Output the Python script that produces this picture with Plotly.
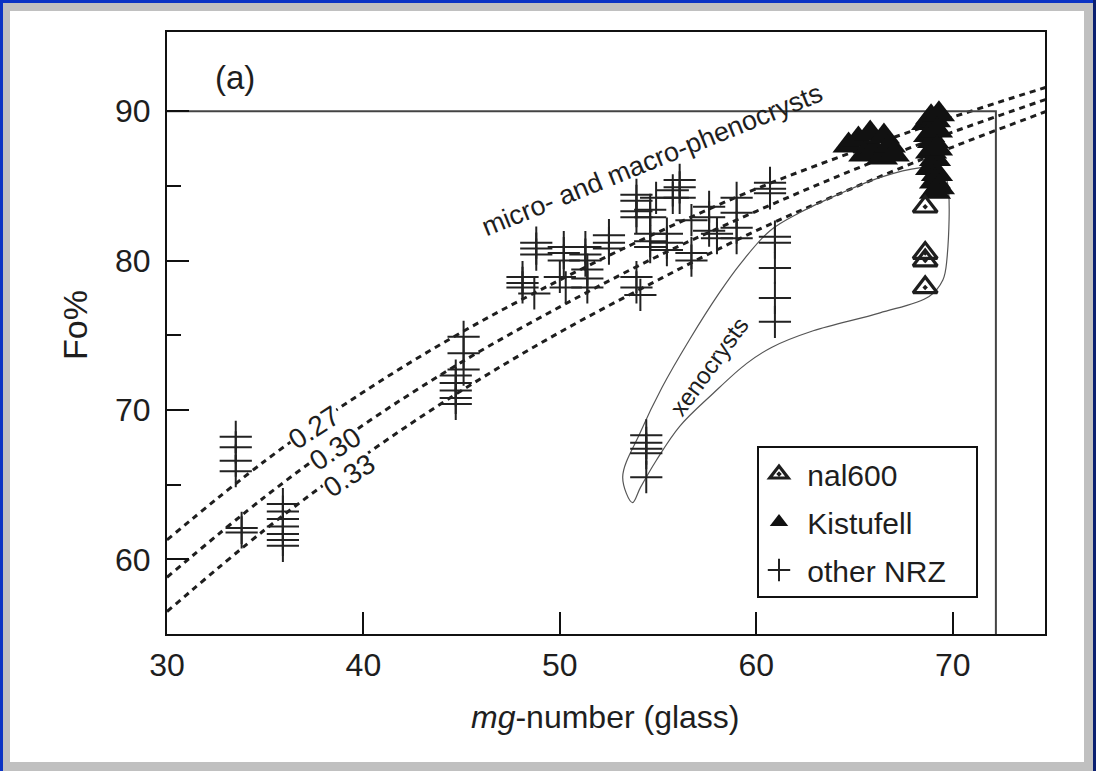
import plotly.graph_objects as go

# ---------------- data ----------------
curve_x = [30, 35, 40, 45, 50, 55, 60, 65, 70, 75]
curve_027 = [61.3, 66.6, 71.2, 75.2, 78.7, 81.9, 84.8, 87.3, 89.6, 91.7]
curve_030 = [58.8, 64.2, 69.0, 73.2, 76.9, 80.3, 83.3, 86.1, 88.6, 90.9]
curve_033 = [56.5, 62.0, 66.9, 71.3, 75.2, 78.7, 82.0, 84.9, 87.6, 90.1]
curve_labels = ["0.27", "0.30", "0.33"]
curve_label_x = [37.5, 38.6, 39.3]
curve_label_y = [68.8, 67.4, 65.6]

nrz_x = [33.5, 33.5, 33.5, 33.5, 33.8, 33.8,
         35.9, 35.9, 35.9, 35.9, 35.9, 35.9, 35.9,
         44.7, 44.7, 44.7, 44.7, 44.7, 45.1, 45.1, 45.1,
         48.1, 48.1, 48.1, 48.7,
         48.8, 48.8, 48.8,
         50.2, 50.2, 50.2, 50.0, 50.3,
         51.3, 51.3, 51.3, 51.4, 51.4, 51.4,
         52.5, 52.5, 52.5,
         53.9, 53.9, 53.9, 53.9, 53.9, 53.9, 54.1,
         54.6, 54.6, 54.6, 54.6, 54.6,
         54.9,
         55.45, 55.45, 55.45,
         55.75, 55.75,
         56.1, 56.1, 56.1,
         56.7, 56.7, 56.7,
         57.6, 57.6, 57.6,
         58.0, 58.0,
         59.0, 59.0, 59.0, 59.0,
         60.7, 60.7, 60.7,
         60.95, 60.95, 60.95, 60.95, 60.95,
         54.4, 54.4, 54.4, 54.4, 54.4]
nrz_y = [68.2, 67.5, 66.6, 65.9, 62.1, 61.8,
         63.7, 63.2, 62.7, 62.2, 61.7, 61.3, 60.9,
         72.3, 71.8, 71.3, 70.8, 70.4, 74.9, 73.8, 72.7,
         78.9, 78.5, 78.2, 77.8,
         81.2, 80.8, 80.4,
         80.9, 80.5, 80.0, 78.9, 78.2,
         80.9, 80.4, 80.0, 79.4, 78.8, 78.2,
         81.7, 81.2, 80.8,
         84.4, 84.0, 83.3, 82.9, 78.9, 78.2, 77.7,
         81.8, 81.3, 80.9, 83.4, 82.9,
         84.2,
         81.8, 81.2, 80.7,
         84.7, 84.2,
         85.4, 84.9, 84.2,
         82.7, 80.5, 80.0,
         83.6, 82.9, 82.0,
         81.8, 81.5,
         84.2, 83.2, 82.2, 81.5,
         85.2, 84.8, 84.5,
         81.6, 81.2, 79.5, 77.5, 75.9,
         68.3, 67.8, 67.4, 67.1, 65.5]

kist_x = [64.7, 65.2, 65.5, 65.8, 66.0, 66.4, 66.5, 66.8, 67.0,
          68.7, 68.9, 69.1, 69.3, 68.8, 69.0, 69.2, 68.9, 69.1, 69.2,
          68.9, 69.2, 69.1, 69.3, 69.1]
kist_y = [87.7, 88.1, 87.1, 88.5, 87.4, 86.9, 88.3, 87.7, 87.1,
          89.2, 89.6, 89.4, 89.8, 88.4, 88.0, 88.7, 87.3, 86.8, 87.5,
          86.2, 85.8, 85.3, 84.9, 84.6]

nal_x = [68.6, 68.6, 68.6, 68.6]
nal_y = [83.6, 80.5, 80.0, 78.2]

xeno_x = [53.7, 53.2, 54.1, 55.2, 56.6, 58.1, 59.2, 60.7, 62.2, 64.3, 66.4, 68.3,
          69.3, 69.7, 69.7, 69.5, 68.8, 66.3, 62.9, 60.8, 59.5, 57.8, 56.1, 54.9, 54.1, 53.7]
xeno_y = [63.8, 65.5, 68.5, 71.5, 74.7, 77.8, 79.8, 82.0, 83.2, 84.5, 85.6, 86.2,
          86.2, 85.4, 80.0, 78.7, 77.6, 76.5, 75.3, 74.2, 73.1, 71.1, 68.9, 66.6, 64.8, 63.8]

limit_x = 72.2
limit_y = 90

FONT = "Liberation Sans, Arial, sans-serif"
INK = "#1e1e1e"
NB = "\u00a0"

W, H = 1096, 771
L, R, T, B = 167, 51, 32, 137
PW, PH = W - L - R, H - T - B


def px(x):
    return (x - L) / PW


def py(y):
    return (H - B - y) / PH


fig = go.Figure()

dash = "6px,5px"
for yy in (curve_027, curve_030, curve_033):
    fig.add_trace(go.Scatter(x=curve_x, y=yy, mode="lines", line_shape="spline",
                             line=dict(color=INK, width=3, dash=dash),
                             showlegend=False, hoverinfo="skip"))

fig.add_trace(go.Scatter(x=xeno_x, y=xeno_y, mode="lines", line_shape="spline",
                         line=dict(color="#555", width=1.2),
                         showlegend=False, hoverinfo="skip"))

fig.add_trace(go.Scatter(x=[30, limit_x, limit_x], y=[limit_y, limit_y, 55], mode="lines",
                         line=dict(color="#444", width=2),
                         showlegend=False, hoverinfo="skip"))

fig.add_trace(go.Scatter(x=nrz_x, y=nrz_y, mode="markers", name=NB + "other NRZ" + NB * 3,
                         legendgroup="c", legendrank=3,
                         marker=dict(symbol="cross-thin", size=23, color="#222",
                                     line=dict(width=2, color="#222"))))
fig.add_trace(go.Scatter(x=kist_x, y=kist_y, mode="markers", name=NB + "Kistufell",
                         legendgroup="b", legendrank=2,
                         marker=dict(symbol="triangle-up", size=28, color="#111",
                                     line=dict(width=0))))
fig.add_trace(go.Scatter(x=nal_x, y=nal_y, mode="markers", name=NB + "nal600",
                         legendgroup="a", legendrank=1,
                         marker=dict(symbol="triangle-up-open-dot", size=21, color=INK,
                                     line=dict(width=3.2, color=INK))))

ann = []
for t, lx, ly in zip(curve_labels, curve_label_x, curve_label_y):
    ann.append(dict(x=lx, y=ly, xref="x", yref="y", text=t, showarrow=False,
                    xanchor="center", yanchor="middle",
                    textangle=-33, font=dict(family=FONT, size=28, color=INK),
                    bgcolor="white", borderpad=0))
ann.append(dict(x=54.7, y=86.7, xref="x", yref="y", text="micro- and macro-phenocrysts",
                xanchor="center", yanchor="middle",
                showarrow=False, textangle=-22, font=dict(family=FONT, size=27, color=INK)))
ann.append(dict(x=57.6, y=72.9, xref="x", yref="y", text="xenocrysts",
                xanchor="center", yanchor="middle",
                showarrow=False, textangle=-54, font=dict(family=FONT, size=24, color=INK)))
ann.append(dict(x=px(235), y=py(77), xref="paper", yref="paper", text="(a)",
                xanchor="center", yanchor="middle",
                showarrow=False, font=dict(family=FONT, size=33, color=INK)))
ann.append(dict(x=px(75), y=py(325), xref="paper", yref="paper", text="Fo%",
                xanchor="center", yanchor="middle",
                showarrow=False, textangle=-90, font=dict(family=FONT, size=34, color=INK)))
ann.append(dict(x=px(605), y=py(717), xref="paper", yref="paper",
                text="<i>mg</i>-number (glass)",
                xanchor="center", yanchor="middle",
                showarrow=False, font=dict(family=FONT, size=32, color=INK)))

shapes = [
    dict(type="rect", xref="paper", yref="paper", x0=px(0), x1=px(W), y0=py(H), y1=py(0),
         fillcolor="#c0c0c0", line_width=0, layer="below"),
    dict(type="rect", xref="paper", yref="paper", x0=px(10), x1=px(1084), y0=py(762), y1=py(11),
         fillcolor="white", line_width=0, layer="below"),
    dict(type="rect", xref="paper", yref="paper", x0=px(0), x1=px(3), y0=py(H), y1=py(0),
         fillcolor="#0b33c4", line_width=0, layer="below"),
    dict(type="rect", xref="paper", yref="paper", x0=px(0), x1=px(W), y0=py(3), y1=py(0),
         fillcolor="#0b33c4", line_width=0, layer="below"),
    dict(type="rect", xref="paper", yref="paper", x0=px(1093), x1=px(W), y0=py(H), y1=py(0),
         fillcolor="#0a1f70", line_width=0, layer="below"),
]

fig.update_layout(
    width=W, height=H,
    margin=dict(l=L, r=R, t=T, b=B),
    paper_bgcolor="#c0c0c0",
    plot_bgcolor="white",
    font=dict(family=FONT, color=INK),
    annotations=ann,
    shapes=shapes,
    legend=dict(x=px(757), y=py(446), xanchor="left", yanchor="top",
                bordercolor="#111", borderwidth=2, bgcolor="white",
                font=dict(family=FONT, size=30, color=INK),
                tracegroupgap=6, traceorder="grouped"),
    xaxis=dict(range=[30, 74.7], tickvals=[30, 40, 50, 60, 70],
               ticks="inside", ticklen=22, tickwidth=2, tickcolor="#111",
               showline=True, linecolor="#111", linewidth=2, mirror=True,
               showgrid=False, zeroline=False, ticklabelstandoff=2,
               tickfont=dict(family=FONT, size=32, color=INK)),
    yaxis=dict(range=[55, 95.3], tickvals=[60, 70, 80, 90],
               ticks="inside", ticklen=22, tickwidth=2, tickcolor="#111",
               minor=dict(ticks="inside", ticklen=14, tickwidth=2, tickcolor="#111",
                          tickvals=[65, 75, 85]),
               showline=True, linecolor="#111", linewidth=2, mirror=True,
               showgrid=False, zeroline=False, ticklabelstandoff=8,
               tickfont=dict(family=FONT, size=32, color=INK)),
)

fig.write_html("out.html")
